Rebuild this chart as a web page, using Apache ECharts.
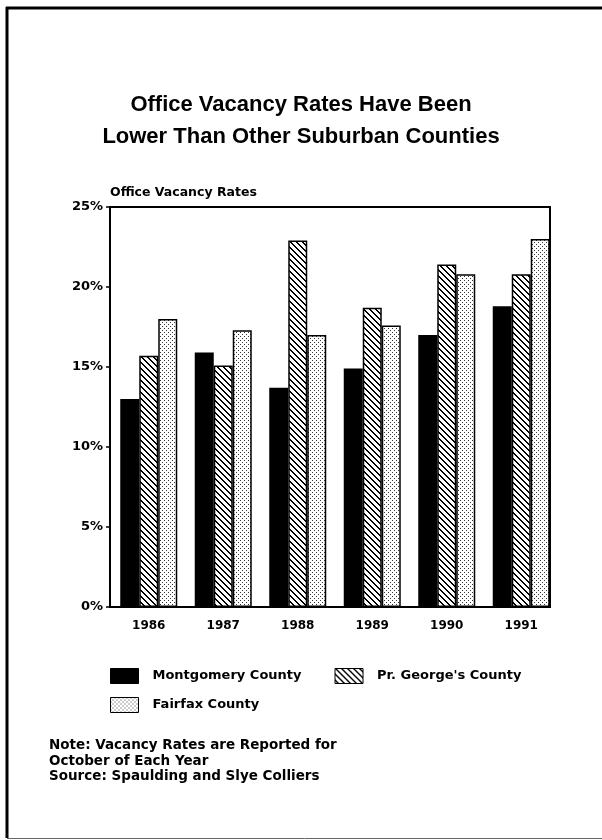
<!DOCTYPE html>
<html>
<head>
<meta charset="utf-8">
<script src="https://cdn.jsdelivr.net/npm/echarts@6/dist/echarts.min.js"></script>
<style>
  html, body { margin: 0; padding: 0; background: #fff; }
  #chart { width: 602px; height: 840px; }
</style>
</head>
<body>
<div id="chart"></div>
<script>
// Office vacancy rates (%), October of each year
const years = ['1986', '1987', '1988', '1989', '1990', '1991'];
const montgomery = [13.0, 15.9, 13.7, 14.9, 17.0, 18.8];
const princeGeorges = [15.7, 15.1, 22.9, 18.7, 21.4, 20.8];
const fairfax = [18.0, 17.3, 17.0, 17.6, 20.8, 23.0];
const yTicks = [0, 5, 10, 15, 20, 25];

const seriesNames = ['Montgomery County', "Pr. George's County", 'Fairfax County'];
const titleLines = ['Office Vacancy Rates Have Been', 'Lower Than Other Suburban Counties'];
const noteLines = [
  'Note: Vacancy Rates are Reported for',
  'October of Each Year',
  'Source: Spaulding and Slye Colliers'
];

// Fill tiles: diagonal hatch and fine stipple
function hatchTile() {
  const c = document.createElement('canvas');
  c.width = 6; c.height = 6;
  const g = c.getContext('2d');
  g.fillStyle = '#fff'; g.fillRect(0, 0, 6, 6);
  g.fillStyle = '#000';
  for (let i = 0; i < 6; i++) {
    g.fillRect(i, i, 1, 1);
    g.fillRect((i + 1) % 6, i, 1, 1);
  }
  return c;
}
function dotTile() {
  const c = document.createElement('canvas');
  c.width = 4; c.height = 4;
  const g = c.getContext('2d');
  g.fillStyle = '#fff'; g.fillRect(0, 0, 4, 4);
  g.fillStyle = '#333';
  g.fillRect(0, 0, 1, 1);
  g.fillRect(2, 2, 1, 1);
  return c;
}
const hatchFill = { image: hatchTile(), repeat: 'repeat' };
const dotFill = { image: dotTile(), repeat: 'repeat' };

const labelFont = 'DejaVu Sans';
const chart = echarts.init(document.getElementById('chart'), null, { renderer: 'canvas' });

function barSeries(name, data, fill) {
  return {
    name: name,
    type: 'bar',
    xAxisIndex: 1,
    yAxisIndex: 1,
    data: data,
    barWidth: 19,
    barGap: '0%',
    itemStyle: { color: fill, borderColor: '#000', borderWidth: 1.5 },
    emphasis: { disabled: true },
    animation: false
  };
}

const legendText = { fontFamily: labelFont, fontWeight: 'bold', fontSize: 13, color: '#000', padding: [0, 0, 0, 9] };

chart.setOption({
  backgroundColor: '#fff',
  animation: false,
  title: {
    text: titleLines.join('\n'),
    left: 'center',
    top: 84,
    textStyle: {
      fontFamily: 'Liberation Sans',
      fontSize: 22,
      fontWeight: 'bold',
      color: '#000',
      lineHeight: 32,
      align: 'center'
    }
  },
  grid: [
    { left: 110, top: 207, width: 440, height: 400, show: true, borderColor: '#000', borderWidth: 2, backgroundColor: 'transparent' },
    { left: 111.5, top: 207, width: 447, height: 400 }
  ],
  xAxis: [
    { gridIndex: 0, type: 'value', show: false, min: 0, max: 1 },
    {
      gridIndex: 1, type: 'category', data: years,
      axisLine: { show: false }, axisTick: { show: false },
      axisLabel: { margin: 13, fontFamily: labelFont, fontWeight: 'bold', fontSize: 12, color: '#000' }
    }
  ],
  yAxis: [
    {
      gridIndex: 0, type: 'value', min: yTicks[0], max: yTicks[yTicks.length - 1], interval: 5,
      name: 'Office Vacancy Rates', nameLocation: 'end', nameGap: 8,
      nameTextStyle: { align: 'left', fontFamily: labelFont, fontWeight: 'bold', fontSize: 12.5, color: '#000', padding: [0, 0, 0, 0] },
      axisLine: { show: true, lineStyle: { color: '#000', width: 2 } },
      axisTick: { show: true, length: 4, lineStyle: { color: '#000', width: 1.5 } },
      splitLine: { show: false },
      axisLabel: { margin: 7, formatter: '{value}%', fontFamily: labelFont, fontWeight: 'bold', fontSize: 13, color: '#000' }
    },
    { gridIndex: 1, type: 'value', min: 0, max: 25, show: false }
  ],
  legend: [
    {
      data: seriesNames.slice(0, 2), left: 110, top: 668, padding: 0, orient: 'horizontal',
      icon: 'rect', itemWidth: 28, itemHeight: 15, itemGap: 33,
      textStyle: legendText,
      itemStyle: { borderColor: '#000', borderWidth: 1 },
      selectedMode: false
    },
    {
      data: seriesNames.slice(2), left: 110, top: 697, padding: 0, orient: 'horizontal',
      icon: 'rect', itemWidth: 28, itemHeight: 15,
      textStyle: legendText,
      itemStyle: { borderColor: '#000', borderWidth: 1 },
      selectedMode: false
    }
  ],
  graphic: [
    // page frame
    { type: 'line', shape: { x1: 7, y1: 7, x2: 7, y2: 838 }, style: { stroke: '#000', lineWidth: 3 } },
    { type: 'line', shape: { x1: 6, y1: 8, x2: 602, y2: 8 }, style: { stroke: '#000', lineWidth: 3 } },
    { type: 'line', shape: { x1: 7, y1: 838.5, x2: 602, y2: 838.5 }, style: { stroke: '#666', lineWidth: 1 } },
    // footnote
    {
      type: 'text', left: 49, top: 738,
      style: { text: noteLines.join('\n'), font: 'bold 13.5px "DejaVu Sans"', fill: '#000', lineHeight: 15.5 }
    }
  ],
  series: [
    barSeries(seriesNames[0], montgomery, '#000'),
    barSeries(seriesNames[1], princeGeorges, hatchFill),
    barSeries(seriesNames[2], fairfax, dotFill)
  ]
});
</script>
</body>
</html>
